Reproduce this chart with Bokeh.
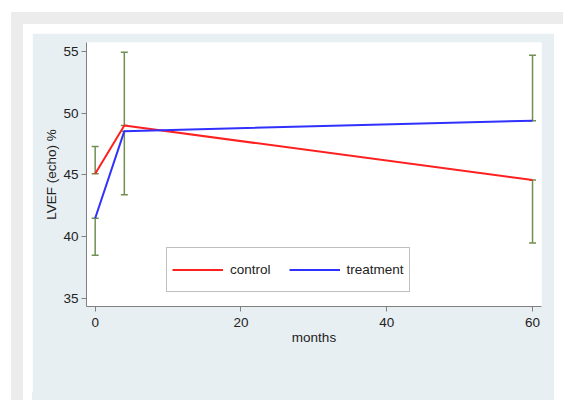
from bokeh.plotting import figure
from bokeh.models import ColumnDataSource, Whisker, TeeHead, Legend, LegendItem, FixedTicker, Range1d
from bokeh.embed import file_html
from bokeh.resources import INLINE

# data
months = [0, 4, 60]
control = [45.1, 49.0, 44.6]
treatment = [41.5, 48.55, 49.4]
control_lo = [45.1, 49.0, 39.5]
control_hi = [47.3, 54.95, 44.6]
treatment_lo = [38.5, 43.4, 49.4]
treatment_hi = [41.5, 48.55, 54.7]
x_ticks = [0, 20, 40, 60]
y_ticks = [35, 40, 45, 50, 55]

FONT = "Liberation Sans"
PANEL = "#e8eff2"
GREEN = "#728f52"

p = figure(width=522, height=359, output_backend="svg", toolbar_location=None,
           x_range=Range1d(-1.19, 61.23), y_range=Range1d(34.35, 55.73),
           min_border_left=54, min_border_right=13, min_border_top=9, min_border_bottom=86,
           border_fill_color=PANEL, background_fill_color="white",
           outline_line_color=None, margin=(33, 0, 0, 32),
           styles={"box-shadow": f"0 20px 0 0 {PANEL}, 0 0 0 9px #ffffff, 0 0 0 21px #ececec"})
p.grid.visible = False

src_c = ColumnDataSource(dict(x=months, lo=control_lo, hi=control_hi))
src_t = ColumnDataSource(dict(x=months, lo=treatment_lo, hi=treatment_hi))
for s in (src_c, src_t):
    w = Whisker(base="x", lower="lo", upper="hi", source=s, line_color=GREEN, line_width=1.5,
                upper_head=TeeHead(size=7, line_color=GREEN, line_width=1.5),
                lower_head=TeeHead(size=7, line_color=GREEN, line_width=1.5))
    p.add_layout(w)

r_c = p.line(months, control, line_color="#ff2020", line_width=2)
r_t = p.line(months, treatment, line_color="#3030ff", line_width=2)

for ax in (p.xaxis[0], p.yaxis[0]):
    ax.axis_line_color = "#808080"
    ax.major_tick_line_color = "#808080"
    ax.major_tick_out = 5
    ax.major_tick_in = 0
    ax.minor_tick_line_color = None
    ax.major_label_text_font = FONT
    ax.major_label_text_font_size = "13.5px"
    ax.major_label_text_color = "#222222"
    ax.axis_label_text_font = FONT
    ax.axis_label_text_font_size = "13.5px"
    ax.axis_label_text_font_style = "normal"
    ax.axis_label_text_color = "#222222"

p.xaxis.ticker = FixedTicker(ticks=x_ticks)
p.yaxis.ticker = FixedTicker(ticks=y_ticks)
p.xaxis.axis_label = "months"
p.yaxis.axis_label = "LVEF (echo) %"
p.xaxis.major_label_standoff = 6
p.xaxis.axis_label_standoff = 0
p.yaxis.major_label_standoff = 3
p.yaxis.axis_label_standoff = 1

legend = Legend(items=[LegendItem(label="control", renderers=[r_c]),
                       LegendItem(label="treatment", renderers=[r_t])],
                orientation="horizontal", location=(80, 14),
                glyph_width=51, glyph_height=33, label_standoff=7, spacing=18,
                padding=5, margin=0, label_text_font=FONT, label_text_font_size="13.5px",
                label_text_color="#222222", border_line_color="#808080",
                border_line_width=1, background_fill_color="white", background_fill_alpha=1)
p.add_layout(legend)

open("out.html", "w").write(file_html(p, INLINE))
